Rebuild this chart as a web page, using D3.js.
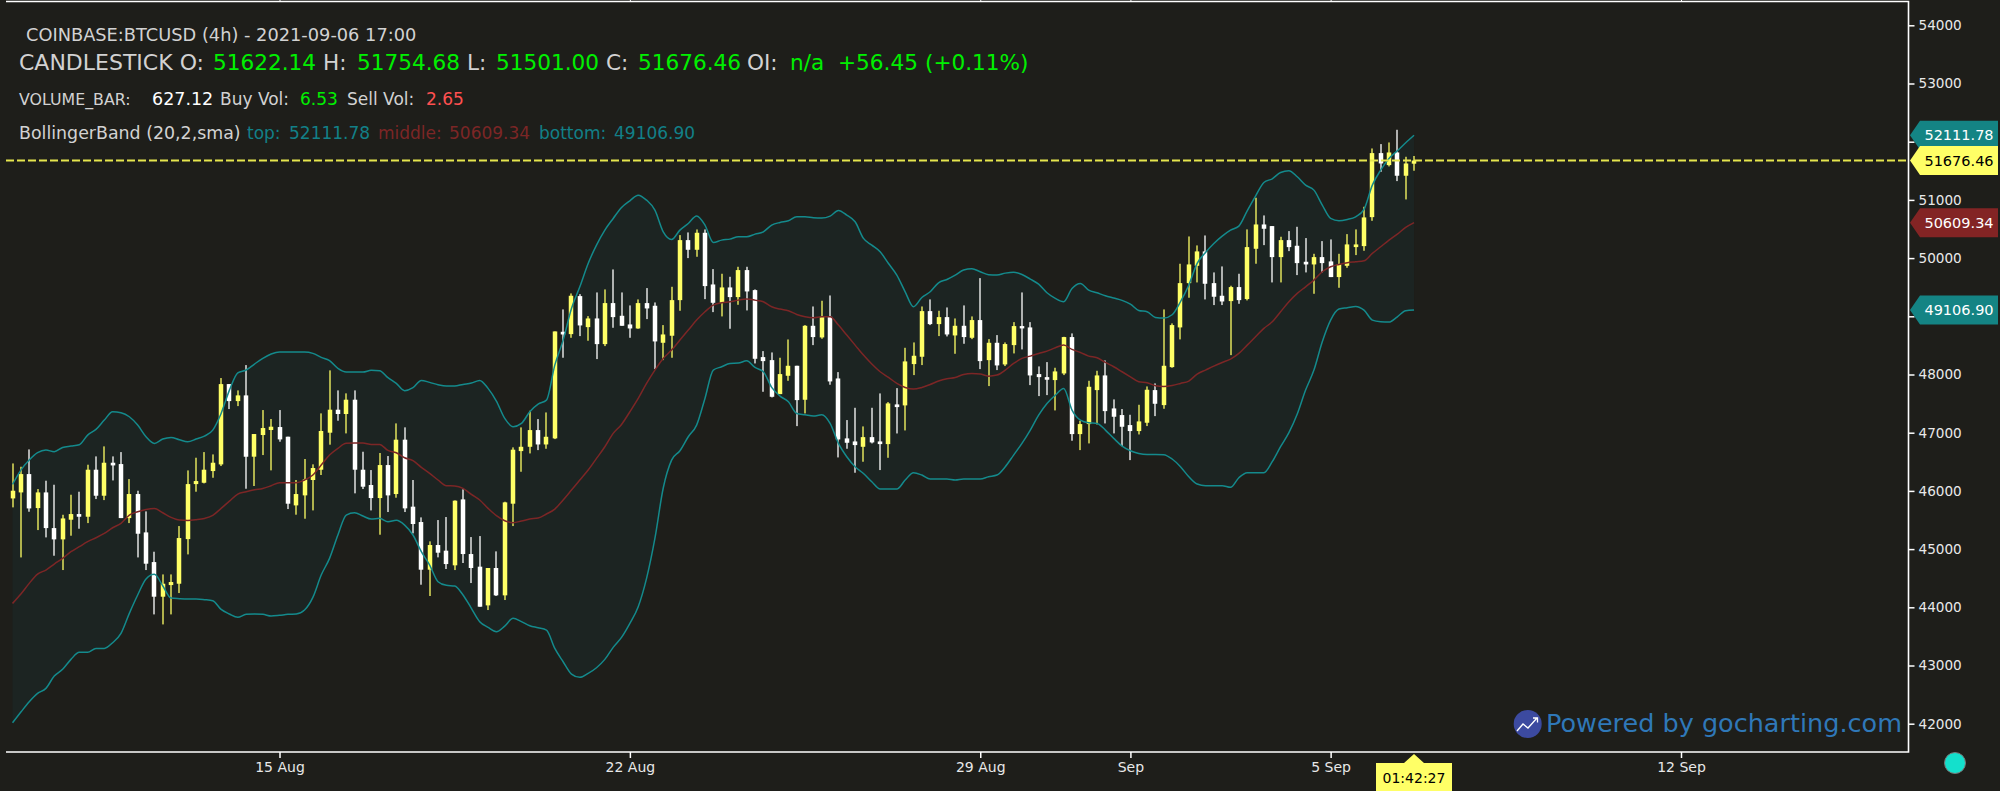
<!DOCTYPE html>
<html><head><meta charset="utf-8">
<script src="https://cdn.jsdelivr.net/npm/d3@7/dist/d3.min.js"></script>
<style>html,body{margin:0;padding:0;background:#1e1e1a;overflow:hidden}svg{display:block}text{font-family:"DejaVu Sans",sans-serif}</style>
</head><body><svg id="c" width="2000" height="791"></svg>
<script>
const lastCandle = "2021-09-06T16:00:00Z";
const opens = [
45871,45974,46289,45705,45974,45361,45167,45505,45602,45556,
46364,45917,46484,46461,45533,45946,45287,44777,44182,44382,
44405,45172,46117,46140,46341,46455,47835,47543,47641,46588,
46960,47046,47097,46931,45751,45923,46187,46364,47000,47395,
47321,47567,46364,46101,45877,46444,45946,46880,45729,45465,
44646,45070,44973,44721,45854,44915,44698,44033,44675,44205,
45780,46684,46758,47045,46798,46902,48734,48694,49347,48814,
48963,48522,49227,49009,48860,48791,49227,49181,48545,48666,
49278,50309,50143,50435,49547,49232,49496,49330,49794,49450,
48299,48247,47663,47978,48150,47566,48837,48637,48992,47932,
46902,46850,46758,46924,46850,46804,47486,47469,48179,48305,
49089,48866,48986,48671,48837,48631,48935,48247,48545,48173,
48505,48832,48809,48007,47955,47904,48018,48643,46976,47148,
47732,47984,47417,47303,47131,47028,47171,47732,47474,48127,
48809,49570,49868,50115,49570,49353,49261,49502,49296,50160,
50578,50550,50017,50309,50212,49937,49891,50017,49943,49674,
49868,50189,50206,50704,51804,51598,51815,51415,51622.14];
const highs = [
46472,46415,46713,46032,46175,46106,45590,45934,45986,46450,
46593,46765,46593,46667,46203,46003,45648,44955,44565,44565,
45396,46352,46570,46667,46627,47939,47835,47727,48162,46977,
47389,47235,47389,46931,46187,46548,46456,47332,48071,47727,
47676,47727,46673,46358,46651,46599,47160,47092,46187,45545,
45133,45499,45551,45837,46026,45207,45224,44675,44961,45814,
46748,47091,47377,47234,47348,48740,49118,49393,49381,49003,
49410,49462,49805,49410,49187,49290,49485,49238,48849,49507,
50395,50441,50492,50492,49811,49731,49679,49851,49851,49462,
48402,48379,48288,48602,48150,48849,49169,49267,49358,48041,
47217,47428,47108,47428,47675,47526,47766,48459,48551,49169,
49290,49095,49152,48963,49187,48998,49656,48608,48677,48551,
48900,49410,48900,48139,48213,48116,48648,48706,47205,47892,
48064,48242,47572,47406,47308,47480,47795,47847,49118,48878,
49903,50372,50218,50389,49754,49857,49525,49731,50493,51037,
50733,50550,50367,50464,50538,50344,50074,50292,50321,50074,
50412,50493,50882,51884,51959,51987,52205,51741,51754.68];
const lows = [
45717,44857,45642,45327,45201,44886,44640,45230,45350,45447,
45860,45842,46180,45533,45447,44857,44640,43878,43706,43878,
44245,44909,45986,46129,46226,46427,47406,47457,46037,46084,
46616,46353,46845,45688,45591,45522,45665,46273,46794,47206,
46988,45958,46032,45665,45247,45637,45883,45637,45270,44388,
44194,44858,44658,44640,44761,44417,44010,43953,44194,44125,
45396,46329,46644,46701,46724,46890,48288,48631,48660,48580,
48265,48488,48803,48837,48631,48786,48952,48093,48247,48288,
49095,50000,50023,49295,49072,48998,48786,49198,49101,48190,
47703,47606,47663,47892,47113,47331,48505,48614,47824,46575,
46724,46312,46501,46816,46358,46569,46987,47039,47990,48162,
48849,48660,48654,48356,48528,48608,48093,47801,48076,48145,
48362,48431,47818,47629,47646,47383,47990,46862,46701,46816,
47142,47159,46988,46770,46529,46970,47114,47285,47411,48116,
48603,49319,49582,49290,49193,49193,48333,49215,49273,49903,
50223,49582,49582,50120,49708,49754,49387,49754,49674,49490,
49834,50052,50126,50641,51483,51575,51323,51008,51501.00];
const closes = [
46003,46289,45699,45974,45361,45167,45527,45602,45556,46364,
45917,46484,46438,45533,45946,45264,44749,44182,44405,44434,
45190,46117,46169,46364,46484,47835,47543,47641,46587,46977,
47080,47103,46885,45780,45946,46198,46393,47029,47395,47321,
47567,46364,46072,45877,46444,45923,46880,45700,45431,44646,
45070,44938,44743,45832,44915,44675,44010,44675,44205,45803,
46708,46758,47045,46798,46930,48740,48688,49353,48843,48963,
48522,49227,48986,48837,48791,49227,49135,48568,48688,49278,
50309,50143,50435,49519,49232,49496,49330,49794,49427,48270,
48230,47617,48007,48150,47560,48837,48643,48992,47881,46884,
46827,46787,46924,46833,46804,47503,47440,48225,48322,49089,
48866,48986,48688,48837,48643,48935,48230,48545,48156,48523,
48832,48792,47984,47955,47910,48053,48643,46976,47148,47789,
47984,47371,47274,47102,47028,47194,47738,47497,48150,48849,
49570,49891,50115,49559,49336,49255,49502,49278,50189,50578,
50504,50017,50309,50189,49914,49891,50017,49914,49674,49897,
50235,50235,50699,51804,51626,51815,51415,51626,51676.46];
const bandTop = [
46112,46358,46530,46656,46702,46673,46747,46770,46793,46959,
47057,47217,47360,47343,47274,47131,46931,46816,46891,46919,
46879,46845,46891,46942,47045,47331,47732,48030,48077,48180,
48277,48351,48386,48386,48386,48386,48363,48294,48237,48105,
48042,48042,48042,48071,48065,47945,47847,47722,47773,47899,
47865,47825,47802,47802,47830,47853,47899,47762,47544,47246,
47103,47159,47360,47491,47560,48161,48591,49135,49507,49908,
50223,50481,50681,50870,50985,51082,50996,50825,50452,50321,
50481,50595,50722,50567,50269,50309,50326,50366,50366,50412,
50452,50567,50613,50641,50710,50710,50693,50687,50722,50819,
50739,50624,50338,50223,50109,49908,49708,49421,49164,49324,
49421,49576,49633,49708,49794,49817,49765,49714,49708,49742,
49759,49719,49639,49553,49404,49307,49250,49479,49565,49450,
49404,49353,49313,49273,49210,49101,49078,48981,48969,49026,
49250,49536,49908,50097,50252,50378,50481,50550,50813,51065,
51300,51363,51472,51501,51397,51254,51168,50911,50682,50641,
50664,50710,50836,51254,51512,51712,51844,51982,52111.78];
const bandMid = [
44067,44228,44411,44571,44640,44743,44840,44955,45041,45127,
45195,45270,45367,45442,45585,45642,45682,45699,45625,45545,
45499,45493,45505,45527,45579,45699,45825,45946,45986,46020,
46043,46089,46141,46141,46141,46187,46273,46444,46616,46731,
46817,46822,46822,46799,46799,46696,46656,46570,46519,46404,
46301,46187,46089,46084,46043,45940,45843,45700,45574,45488,
45454,45482,45517,45534,45603,45688,45843,46014,46186,46358,
46558,46758,46988,47142,47360,47589,47847,48076,48276,48419,
48591,48763,48935,49078,49192,49232,49250,49278,49296,49278,
49250,49164,49124,49095,49032,48992,48975,48992,48992,48849,
48677,48505,48333,48179,48047,47950,47847,47778,47749,47778,
47829,47887,47927,47950,48001,48018,48007,47972,47990,48076,
48190,48276,48316,48362,48402,48459,48505,48431,48379,48316,
48288,48207,48133,48047,47961,47875,47858,47807,47795,47812,
47847,47887,48007,48076,48145,48207,48265,48362,48505,48648,
48792,48906,49078,49250,49393,49507,49622,49765,49851,49891,
49920,49937,49954,50080,50195,50309,50412,50527,50609.34];
const bandBottom = [
42017,42200,42378,42521,42607,42819,42934,43105,43226,43226,
43294,43294,43392,43552,43896,44211,44486,44566,44371,44159,
44148,44142,44142,44131,44113,43964,43884,43827,43879,43884,
43879,43850,43862,43879,43884,43953,44171,44554,44841,45242,
45585,45625,45568,45516,45528,45471,45494,45413,45242,44955,
44726,44440,44377,44365,44211,43982,43753,43655,43581,43678,
43810,43753,43684,43649,43609,43294,43065,42853,42796,42865,
42962,43105,43312,43483,43724,44010,44497,45184,46050,46529,
46690,46930,47131,47589,48076,48133,48190,48196,48236,48121,
48047,47778,47629,47532,47331,47308,47285,47308,47159,46816,
46587,46415,46300,46157,46031,46031,46031,46186,46312,46272,
46203,46203,46203,46186,46203,46203,46203,46243,46272,46415,
46615,46816,47045,47303,47503,47646,47761,47389,47217,47171,
47160,47045,46902,46770,46690,46644,46627,46627,46622,46548,
46416,46244,46118,46090,46090,46090,46061,46227,46313,46313,
46313,46502,46760,47000,47320,47732,48076,48563,48935,49124,
49147,49170,49107,48935,48906,48900,48992,49095,49106.90];
const priceTicks = [42000,43000,44000,45000,46000,47000,48000,49000,50000,51000,52000,53000,54000];
const dateTicks = ["2021-08-15","2021-08-22","2021-08-29","2021-09-01","2021-09-05","2021-09-12"];
const dateLabels = ["15 Aug","22 Aug","29 Aug","Sep","5 Sep","12 Sep"];
const tags = [
 {v:52111.78,fill:"#148484",text:"#fff"},
 {v:51676.46,fill:"#ffff66",text:"#000"},
 {v:50609.34,fill:"#832424",text:"#fff"},
 {v:49106.90,fill:"#148484",text:"#fff"}];

const W=2000,H=791, axisX=1908.5, axisY=752;
const svg=d3.select("#c");
const bg="#1e1e1a", yel="#ffff66", teal="#148a8c", red="#7c2626";
svg.append("rect").attr("width",W).attr("height",H).attr("fill",bg);
const x=d3.scaleUtc().domain([new Date("2021-08-15T00:00:00Z"),new Date("2021-09-12T00:00:00Z")]).range([279.5,1681]);
const y=d3.scaleLinear().domain([42000,54000]).range([723.7,25.3]);
const tEnd=+new Date(lastCandle), n=opens.length;
const times=opens.map((_,i)=>new Date(tEnd-(n-1-i)*4*3600*1000));
const idx=d3.range(n);

// band
svg.append("path").attr("fill","#1c2422")
 .attr("d",d3.area().x(i=>x(times[i])).y0(i=>y(bandBottom[i])).y1(i=>y(bandTop[i])).curve(d3.curveMonotoneX)(idx));

// candles
const g=svg.append("g");
idx.forEach(i=>{
 const c=closes[i]>=opens[i]?yel:"#ffffff", cx=Math.round(x(times[i]));
 g.append("rect").attr("x",cx-0.65).attr("width",1.3).attr("y",y(highs[i])).attr("height",y(lows[i])-y(highs[i])).attr("fill",c);
 const t=y(Math.max(opens[i],closes[i])),b=y(Math.min(opens[i],closes[i]));
 g.append("rect").attr("x",cx-2.25).attr("width",4.5).attr("y",t).attr("height",Math.max(2,b-t)).attr("fill",c);
});

// band lines
[[bandTop,teal],[bandBottom,teal],[bandMid,red]].forEach(([a,col])=>{
 svg.append("path").attr("fill","none").attr("stroke",col).attr("stroke-width",1.5)
  .attr("d",d3.line().x(i=>x(times[i])).y(i=>y(a[i])).curve(d3.curveMonotoneX)(idx));
});

// current price line
svg.append("line").attr("x1",6).attr("x2",axisX).attr("y1",y(closes[n-1])).attr("y2",y(closes[n-1]))
 .attr("stroke","#e6e64e").attr("stroke-width",2).attr("stroke-dasharray","8,3");

// axes
const axR=d3.axisRight(y).tickValues(priceTicks).tickSize(6).tickPadding(4).tickFormat(d3.format("d"));
const gR=svg.append("g").attr("transform",`translate(${axisX},0)`).call(axR);
gR.select(".domain").remove();
gR.selectAll("line").attr("stroke","#fff").attr("stroke-width",1.5);
gR.selectAll("text").attr("fill","#e8e8e8").attr("font-size",13.6).attr("font-family","DejaVu Sans")
 .filter(d=>tags.some(t=>Math.abs(y(t.v)-y(d))<22)).remove();
const dateVals=dateTicks.map(d=>new Date(d+"T00:00:00Z"));
const axB=d3.axisBottom(x).tickValues(dateVals).tickSize(6).tickPadding(4).tickFormat((d,i)=>dateLabels[i]);
const gB=svg.append("g").attr("transform",`translate(0,${axisY})`).call(axB);
gB.select(".domain").remove();
gB.selectAll("line").attr("stroke","#fff").attr("stroke-width",1.5);
gB.selectAll("text").attr("fill","#e8e8e8").attr("font-size",14).attr("font-family","DejaVu Sans");
const axT=d3.axisTop(x).tickValues(dateVals).tickSize(2).tickFormat("");
const gT=svg.append("g").attr("transform","translate(0,2)").call(axT);
gT.select(".domain").remove(); gT.selectAll("line").attr("stroke","#fff");
svg.append("path").attr("fill","none").attr("stroke","#fff").attr("stroke-width",1.6)
 .attr("d",`M6,${axisY}H${axisX}V1.5H6`);

// tags
tags.forEach(t=>{
 const py=y(t.v);
 svg.append("path").attr("fill",t.fill).attr("d",`M1910,${py}L1920,${py-14.5}H1998V${py+14.5}H1920Z`);
 svg.append("text").attr("x",1959).attr("y",py).attr("dy","0.35em").attr("text-anchor","middle")
  .attr("font-size",14.5).attr("fill",t.text).text(d3.format(".2f")(t.v));
});

// legend text
const grey="#d2d2d2", green="#00f000";
function seg(py,size,parts){parts.forEach(([dx,s,col,fs])=>{
 svg.append("text").attr("x",dx).attr("y",py).attr("dy","0.35em").attr("font-size",fs||size).attr("fill",col).text(s);});}
seg(35,17.8,[[26,"COINBASE:BTCUSD (4h) - 2021-09-06 17:00",grey]]);
seg(62,21.6,[[19,"CANDLESTICK O:",grey,22],[213,"51622.14",green],[323,"H:",grey],[357,"51754.68",green],[467,"L:",grey],[496,"51501.00",green],[606,"C:",grey],[638,"51676.46",green],[747,"OI:",grey],[790,"n/a",green],[838,"+56.45",green],[925,"(+0.11%)",green]]);
seg(99,17,[[19,"VOLUME_BAR:",grey,15.8],[152,"627.12","#ffffff",17.5],[220,"Buy Vol:",grey],[300,"6.53",green],[347,"Sell Vol:",grey],[426,"2.65","#ff5050"]]);
seg(133,17,[[19,"BollingerBand (20,2,sma)",grey,17.4],[247,"top:","#128088"],[289,"52111.78","#128088"],[378,"middle:","#7c2626"],[449,"50609.34","#7c2626"],[539,"bottom:","#128088"],[614,"49106.90","#128088"]]);

// watermark
svg.append("circle").attr("cx",1527.7).attr("cy",724).attr("r",14).attr("fill","#3c4aa0");
svg.append("path").attr("fill","none").attr("stroke","#fff").attr("stroke-width",1.3)
 .attr("d","M1517,731L1523,724L1528,728L1537,718M1533,718H1537.5V722.5");
svg.append("text").attr("x",1546).attr("y",723).attr("dy","0.35em").attr("font-size",25.5).attr("fill","#2f78b8").text("Powered by gocharting.com");

// time tag
svg.append("path").attr("fill",yel).attr("d","M1414,754L1424,763H1452V791H1376V763H1404Z");
svg.append("text").attr("x",1414).attr("y",778).attr("dy","0.35em").attr("text-anchor","middle").attr("font-size",14).attr("fill","#000").text("01:42:27");

svg.append("circle").attr("cx",1955).attr("cy",763).attr("r",10.5).attr("fill","#14e0cc").attr("stroke","#777").attr("stroke-width",1);
</script></body></html>
